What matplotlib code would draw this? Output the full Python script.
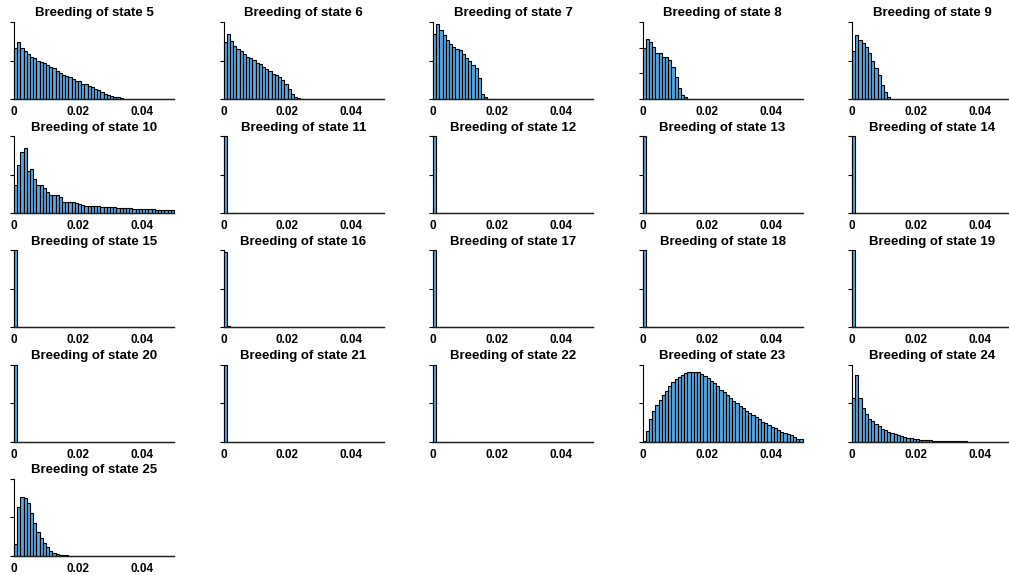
import numpy as np
import matplotlib
matplotlib.use("Agg")
import matplotlib.pyplot as plt

plt.rcParams['font.family'] = ['Liberation Sans', 'DejaVu Sans']

# Histogram layout: 50 bins of width 0.001 covering [0, 0.05]
BIN_WIDTH = 0.001
N_BINS = 50
bin_left = np.arange(N_BINS) * BIN_WIDTH

states = [5, 6, 7, 8, 9, 10, 11, 12, 13, 14, 15, 16, 17, 18, 19, 20, 21, 22, 23, 24, 25]

# Density per bin (only non-empty leading bins listed; the rest are empty)
density_5 = [66, 74, 66, 62, 59, 55, 53, 50, 48, 47, 44, 42, 40, 37, 34, 31, 30, 28, 26, 24,
             23, 20, 19, 17, 15, 13, 12, 9, 7, 5, 4, 3, 2, 1, 0.4]
density_6 = [74, 85, 75, 69, 65, 62, 58, 55, 53, 51, 47, 45, 42, 39, 37, 33, 31, 28, 25, 20,
             13, 7, 3, 1]
density_7 = [85, 97, 89, 83, 77, 71, 67, 65, 63, 58, 53, 49, 44, 40, 27, 6, 2]
density_8 = [99, 117, 111, 102, 90, 90, 82, 82, 76, 63, 43, 22, 8, 3]
density_9 = [124, 166, 154, 146, 134, 120, 100, 80, 62, 36, 18, 4]
density_10 = [36, 63, 79, 85, 55, 58, 44, 37, 36, 33, 27, 24, 23, 23, 21, 15, 14, 14.5, 14.5, 13,
              12, 11, 10, 10, 9.2, 9, 8.8, 8.6, 8.4, 8.2, 8, 7.7, 7.4, 7.1, 6.8, 6.5, 6.3, 6.1, 5.9, 5.7,
              5.5, 5.3, 5.1, 4.9, 4.7, 4.5, 4.3, 4.1, 3.9, 3.7]
density_point_mass = [1000]
density_16 = [985, 15]
density_23 = [0.4, 5.6, 12, 16, 19.2, 21.6, 24, 26.4, 28.8, 30.8,
              32.4, 33.6, 34.8, 35.6, 36, 36.4, 36.4, 36.4, 35.2, 34,
              33.2, 31.6, 30.4, 28.8, 26.8, 25.6, 24, 22.4, 21.2, 20,
              18.4, 17.2, 16, 14.8, 13.6, 12.8, 11.6, 10.4, 9.6, 8.8,
              7.6, 7.2, 6, 5.2, 4.4, 4, 3.2, 2.4, 1.6, 1.2]
density_24 = [114, 174, 114, 86, 72, 60, 54, 46, 40, 34, 30, 26, 22, 20, 16, 14, 12, 10, 9, 8,
              6, 5, 4, 3.6, 3, 2.4, 2, 1.6, 1.4, 1.2, 1, 0.8, 0.6, 0.5, 0.4, 0.3, 0.2]
density_25 = [30, 126, 154, 150, 136, 110, 86, 62, 46, 32, 22, 13, 8, 4, 2.6, 1.6, 0.8, 0.4]

densities = {
    5: density_5, 6: density_6, 7: density_7, 8: density_8, 9: density_9, 10: density_10,
    11: density_point_mass, 12: density_point_mass, 13: density_point_mass,
    14: density_point_mass, 15: density_point_mass, 16: density_16,
    17: density_point_mass, 18: density_point_mass, 19: density_point_mass,
    20: density_point_mass, 21: density_point_mass, 22: density_point_mass,
    23: density_23, 24: density_24, 25: density_25,
}

# Y-axis tick values per state
y_ticks = {5: [0, 50, 100], 6: [0, 50, 100], 7: [0, 50, 100], 8: [0, 50, 100, 150],
           9: [0, 100, 200], 10: [0, 50, 100], 23: [0, 20, 40], 24: [0, 100, 200],
           25: [0, 100, 200]}
default_ticks = [0, 500, 1000]

x_ticks = [0, 0.02, 0.04]
x_tick_labels = ["0", "0.02", "0.04"]

BAR_COLOR = "#5aa5db"

W, H = 1009, 575
fig = plt.figure(figsize=(W / 100, H / 100), dpi=100)

for i, state in enumerate(states):
    row, col = divmod(i, 5)
    left_px = 14 + 209.5 * col
    bottom_px = 99 + 114.2 * row
    ax = fig.add_axes([left_px / W, (H - bottom_px) / H, 160 / W, 77 / H])

    heights = np.zeros(N_BINS)
    vals = np.asarray(densities[state], dtype=float)
    heights[:len(vals)] = vals

    ax.bar(bin_left, heights, width=BIN_WIDTH, align='edge', color=BAR_COLOR,
           edgecolor='black', linewidth=0.8, clip_on=False, zorder=2)

    ticks = y_ticks.get(state, default_ticks)
    ax.set_xlim(0, N_BINS * BIN_WIDTH)
    ax.set_ylim(0, ticks[-1])
    ax.set_yticks(ticks)
    ax.set_yticklabels([])
    ax.tick_params(axis='y', length=3, width=0.8, direction='out')

    ax.set_xticks(x_ticks)
    ax.set_xticklabels(x_tick_labels, fontsize=8.5, fontweight='bold')
    ax.tick_params(axis='x', length=0, pad=5)

    for side in ('top', 'right'):
        ax.spines[side].set_visible(False)
    # zero-height bins form a continuous baseline along the bottom
    ax.spines['bottom'].set_bounds(0, N_BINS * BIN_WIDTH)
    ax.spines['bottom'].set_linewidth(1.0)
    ax.spines['bottom'].set_color('#202020')
    ax.spines['left'].set_bounds(0, ticks[-1])
    ax.spines['left'].set_linewidth(0.8)

    ax.set_title(f"Breeding of state {state}", fontsize=9.5, fontweight='bold', pad=4)

fig.savefig("out.png", dpi=100)
